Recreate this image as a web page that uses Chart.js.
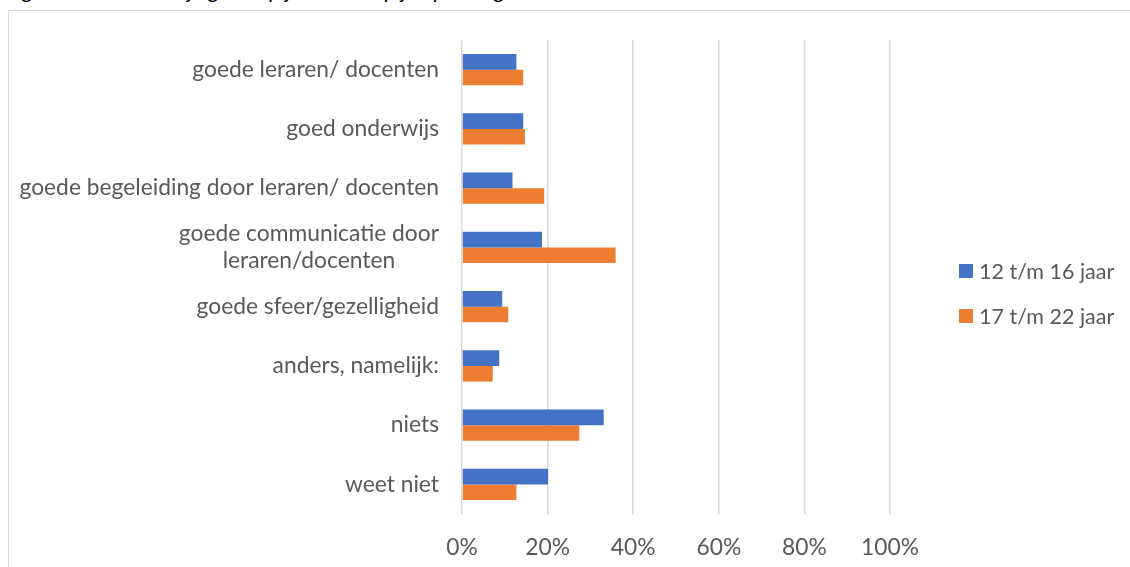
<!DOCTYPE html>
<html>
<head>
<meta charset="utf-8">
<script src="https://cdn.jsdelivr.net/npm/chart.js@4"></script>
<style>
  body { margin:0; background:#fff; overflow:hidden; font-family:Lato, sans-serif; }
  #frame { position:absolute; left:8px; top:10px; width:1200px; height:600px; border:1px solid #d9d9d9; }
  #title { position:absolute; left:6px; top:-21px; font-size:22px; line-height:22px; font-style:italic; color:#000; white-space:nowrap; }
  #wrap { position:absolute; left:0; top:0; width:1130px; height:567px; }
  .leg { position:absolute; left:959px; font-size:21.5px; color:#595959; white-space:nowrap; }
  .leg i { position:absolute; left:0; width:14px; height:14px; }
  .leg span { position:absolute; left:20px; }
</style>
</head>
<body>
<div id="title">Figuur 12: wat vind je goed op je school/op je opleiding</div>
<div id="frame"></div>
<div id="wrap"><canvas id="chart"></canvas></div>
<div id="legend"></div>
<script>
  const categorieen = [
    'goede leraren/ docenten',
    'goed onderwijs',
    'goede begeleiding door leraren/ docenten',
    ['goede communicatie door', 'leraren/docenten'],
    'goede sfeer/gezelligheid',
    'anders, namelijk:',
    'niets',
    'weet niet'
  ];
  const reeksNamen = ['12 t/m 16 jaar', '17 t/m 22 jaar'];
  const jong = [12.7, 14.3, 11.8, 18.7, 9.4, 8.7, 33.1, 20.1];
  const oud = [14.3, 14.7, 19.2, 35.9, 10.8, 7.2, 27.4, 12.7];
  const kleuren = ['#4472C4', '#ED7D31'];
  const xTicks = [0, 20, 40, 60, 80, 100];

  const FONT = 'Lato';
  const FSIZE = 22.8;
  const TXT = '#595959';

  // y-labels zelf tekenen: tweeregelig label gecentreerd onder elkaar
  const yLabelPlugin = {
    id: 'yLabels',
    afterDraw(chart) {
      const ctx = chart.ctx, y = chart.scales.y;
      ctx.save();
      ctx.font = FSIZE + 'px ' + FONT;
      ctx.fillStyle = TXT;
      ctx.textAlign = 'center';
      ctx.textBaseline = 'middle';
      const lh = 27;
      categorieen.forEach((lab, i) => {
        const lines = Array.isArray(lab) ? lab : [lab];
        const maxW = Math.max(...lines.map(l => ctx.measureText(l).width));
        const cx = 439 - maxW / 2;
        const cy = y.getPixelForTick(i);
        lines.forEach((l, k) => {
          ctx.fillText(l, cx, cy + (k - (lines.length - 1) / 2) * lh);
        });
      });
      ctx.restore();
    }
  };

  new Chart(document.getElementById('chart'), {
    type: 'bar',
    data: {
      labels: categorieen,
      datasets: [
        { label: reeksNamen[0], data: jong, backgroundColor: kleuren[0] },
        { label: reeksNamen[1], data: oud, backgroundColor: kleuren[1] }
      ]
    },
    options: {
      indexAxis: 'y',
      responsive: true, maintainAspectRatio: false, animation: false,
      datasets: { bar: { categoryPercentage: 0.53, barPercentage: 1.0 } },
      layout: { padding: { top: 40, right: 240, left: 0, bottom: 0 } },
      plugins: { legend: { display: false }, tooltip: { enabled: false } },
      scales: {
        x: {
          min: 0, max: 100,
          afterBuildTicks: s => { s.ticks = xTicks.map(v => ({ value: v })); },
          afterFit: s => { s.height = 53; },
          ticks: { callback: v => v + '%', color: TXT, font: { family: FONT, size: FSIZE }, padding: 20, maxRotation: 0 },
          grid: { color: '#d9d9d9', lineWidth: 1.5, drawTicks: false },
          border: { display: false }
        },
        y: {
          afterFit: s => { s.width = 462; },
          ticks: { display: false },
          grid: { display: false },
          border: { display: false }
        }
      }
    },
    plugins: [yLabelPlugin]
  });

  // legenda
  const legY = [270.7, 316];
  const legend = document.getElementById('legend');
  reeksNamen.forEach((n, i) => {
    const d = document.createElement('div');
    d.className = 'leg';
    d.style.top = (legY[i] - 14) + 'px';
    d.style.height = '28px';
    d.innerHTML = '<i style="background:' + kleuren[i] + ';top:7px"></i><span style="top:0;line-height:28px">' + n + '</span>';
    legend.appendChild(d);
  });
</script>
</body>
</html>
